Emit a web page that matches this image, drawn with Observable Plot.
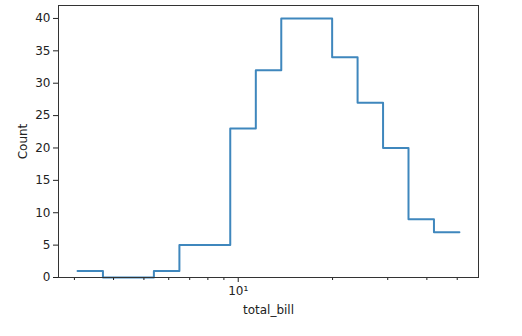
<!DOCTYPE html>
<html><head><meta charset="utf-8">
<script src="https://cdn.jsdelivr.net/npm/d3@7"></script>
<script src="https://cdn.jsdelivr.net/npm/@observablehq/plot@0.6"></script>
<style>body{margin:0;background:#fff}</style>
</head><body><div id="chart"></div>
<script>
const binEdges = [3.07, 3.70, 4.46, 5.38, 6.49, 7.82, 9.43, 11.38, 13.72, 16.54, 19.94, 24.04, 28.99, 34.95, 42.14, 50.81];
const counts = [1, 0, 0, 1, 5, 5, 23, 32, 40, 40, 34, 27, 20, 9, 7];
const yTicks = [0, 5, 10, 15, 20, 25, 30, 35, 40];
const xMajorTicks = [10];
const xMajorLabels = ["10¹"];
const xMinorTicks = [3, 4, 5, 6, 7, 8, 9, 20, 30, 40, 50];
const xDomain = [2.669, 58.46];
const yDomain = [0, 42];

const steps = binEdges.map((e, i) => ({x: e, count: counts[Math.min(i, counts.length - 1)]}));

const chart = Plot.plot({
  width: 522, height: 336,
  marginLeft: 58, marginRight: 44, marginTop: 5, marginBottom: 59,
  style: {fontFamily: "DejaVu Sans", fontSize: "12px", color: "#222", background: "#fff"},
  x: {type: "log", domain: xDomain},
  y: {domain: yDomain},
  marks: [
    Plot.line(steps, {x: "x", y: "count", curve: "step-after", stroke: "#3f87bd", strokeWidth: 2}),
    Plot.axisY({ticks: yTicks, tickSize: 5, tickPadding: 3, label: "Count", labelAnchor: "center", labelArrow: "none", labelOffset: 40}),
    Plot.axisX({ticks: xMinorTicks, tickSize: 3, tickFormat: () => "", label: null}),
    Plot.axisX({ticks: xMajorTicks, tickSize: 5, tickPadding: 4, tickFormat: d => xMajorLabels[xMajorTicks.indexOf(+d)], label: "total_bill", labelAnchor: "center", labelArrow: "none", labelOffset: 36}),
    Plot.frame({stroke: "#333"})
  ]
});
document.getElementById("chart").append(chart);
</script>
</body></html>
